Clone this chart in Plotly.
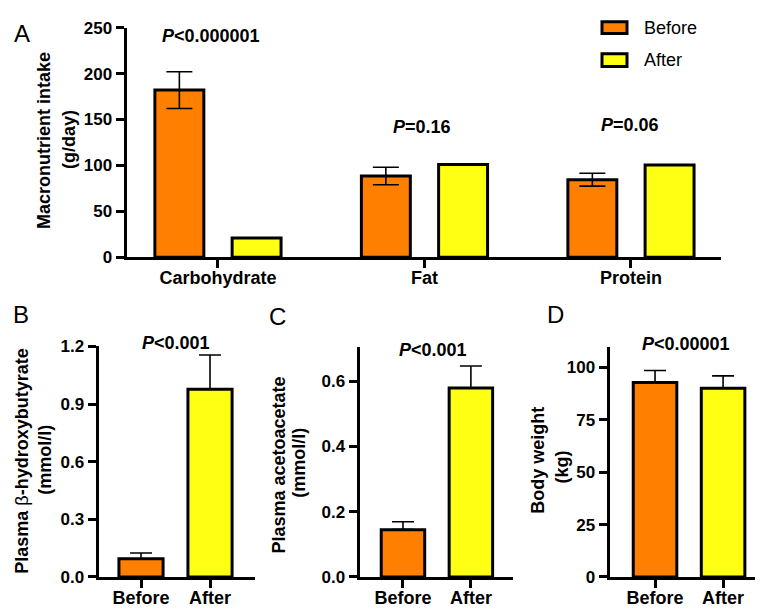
import plotly.graph_objects as go

W, H = 763, 610
FONT = "Liberation Sans, Arial, Helvetica, sans-serif"
ORANGE = "#FF8000"
YELLOW = "#FFFF14"
BLACK = "#000000"

# ---------------- data ----------------
macro_categories = ["Carbohydrate", "Fat", "Protein"]
macro_before = [182, 88.5, 84.5]
macro_before_sd = [20, 9.5, 7]
macro_after = [21, 101, 100.5]
macro_pvals = ["<i>P</i>&lt;0.000001", "<i>P</i>=0.16", "<i>P</i>=0.06"]

groups = ["Before", "After"]
bhb_vals = [0.095, 0.977]
bhb_sd = [0.03, 0.178]
aca_vals = [0.145, 0.579]
aca_sd = [0.024, 0.067]
bw_vals = [92.8, 90.0]
bw_sd = [5.7, 5.9]

bhb_ticks = [0.0, 0.3, 0.6, 0.9, 1.2]
aca_ticks = [0.0, 0.2, 0.4, 0.6]
bw_ticks = [0, 25, 50, 75, 100]
macro_ticks = [0, 50, 100, 150, 200, 250]


def fx(px):
    return px / W


def fy(py):
    return 1 - py / H


fig = go.Figure()

err_style = dict(color=BLACK, thickness=1.6)

# Panel A
fig.add_trace(go.Bar(
    x=macro_categories, y=macro_before, name="Before",
    marker=dict(color=ORANGE, line=dict(color=BLACK, width=3)),
    width=0.237, offset=-0.3055,
    error_y=dict(type="data", array=macro_before_sd, symmetric=True, width=13, **err_style),
    xaxis="x", yaxis="y"))
fig.add_trace(go.Bar(
    x=macro_categories, y=macro_after, name="After",
    marker=dict(color=YELLOW, line=dict(color=BLACK, width=3)),
    width=0.237, offset=0.0685,
    xaxis="x", yaxis="y"))

# Panels B, C, D
for vals, sd, xa, ya in [(bhb_vals, bhb_sd, "x2", "y2"),
                         (aca_vals, aca_sd, "x3", "y3"),
                         (bw_vals, bw_sd, "x4", "y4")]:
    fig.add_trace(go.Bar(
        x=groups, y=vals,
        marker=dict(color=[ORANGE, YELLOW], line=dict(color=BLACK, width=3)),
        width=0.64,
        error_y=dict(type="data", array=sd, arrayminus=[0, 0], symmetric=False,
                     width=11, **err_style),
        xaxis=xa, yaxis=ya))

ytickfont = dict(family=FONT, size=17, color=BLACK, weight="bold")
xtickfont = dict(family=FONT, size=18, color=BLACK, weight="bold")
axis_common = dict(showline=True, linewidth=3, linecolor=BLACK, ticks="outside",
                   ticklen=8, tickwidth=3, tickcolor=BLACK, showgrid=False,
                   zeroline=False, fixedrange=True)
xcommon = dict(tickfont=xtickfont, ticklabelstandoff=-6, **axis_common)
ycommon = dict(tickfont=ytickfont, **axis_common)

bottom_A = 248
top_A = 11
bottom_B = 578

fig.update_layout(
    width=W, height=H, margin=dict(l=0, r=0, t=0, b=0),
    paper_bgcolor="white", plot_bgcolor="white", showlegend=False,
    barmode="overlay",
    xaxis=dict(domain=[fx(118.5), fx(713)], range=[-0.443, 2.436], anchor="y", **xcommon),
    yaxis=dict(domain=[fy(bottom_A), fy(top_A)], range=[0, 250], tickvals=macro_ticks,
               anchor="x", **ycommon),
    xaxis2=dict(domain=[fx(90.5), fx(247)], range=[-0.616, 1.652], anchor="y2", **xcommon),
    yaxis2=dict(domain=[fy(bottom_B), fy(340)], range=[0, 1.2], tickvals=bhb_ticks,
                tickformat=".1f", anchor="x2", **ycommon),
    xaxis3=dict(domain=[fx(351.5), fx(505)], range=[-0.64, 1.62], anchor="y3", **xcommon),
    yaxis3=dict(domain=[fy(bottom_B), fy(341)], range=[0, 0.703], tickvals=aca_ticks,
                tickformat=".1f", anchor="x3", **ycommon),
    xaxis4=dict(domain=[fx(601.5), fx(760)], range=[-0.669, 1.66], anchor="y4", **xcommon),
    yaxis4=dict(domain=[fy(bottom_B), fy(341)], range=[0, 109.5], tickvals=bw_ticks,
                anchor="x4", **ycommon),
)

ann = []


def add_text(text, x, y, size=18, bold=True, angle=0, xanchor="center"):
    ann.append(dict(text=text, x=fx(x), y=fy(y), xref="paper", yref="paper",
                    showarrow=False, textangle=angle, xanchor=xanchor, yanchor="middle",
                    font=dict(family=FONT, size=size, color=BLACK,
                              weight="bold" if bold else "normal")))


# panel letters
add_text("A", 14, 17, size=24, bold=False)
add_text("B", 13, 307, size=24, bold=False)
add_text("C", 269, 309, size=24, bold=False)
add_text("D", 547, 307, size=24, bold=False)

# p-values
add_text(macro_pvals[0], 203, 20)
add_text(macro_pvals[1], 414, 114)
add_text(macro_pvals[2], 622, 111)
add_text("<i>P</i>&lt;0.001", 168, 336)
add_text("<i>P</i>&lt;0.001", 425, 344)
add_text("<i>P</i>&lt;0.00001", 678, 338)

# axis titles
add_text("Macronutrient intake", 36, 128, angle=-90)
add_text("(g/day)", 61, 127, angle=-90)
add_text("Plasma <span style='font-weight:normal'>β</span>-hydroxybutyrate", 14, 459, angle=-90)
add_text("(mmol/l)", 37, 457, angle=-90)
add_text("Plasma acetoacetate", 271, 463, angle=-90)
add_text("(mmol/l)", 291, 460, angle=-90)
add_text("Body weight", 530, 458, angle=-90)
add_text("(kg)", 554, 465, angle=-90)

# legend
add_text("Before", 634, 11, bold=False, xanchor="left")
add_text("After", 634, 44, bold=False, xanchor="left")

shapes = [
    dict(type="rect", xref="paper", yref="paper", x0=fx(594), x1=fx(619), y0=fy(17), y1=fy(5),
         fillcolor=ORANGE, line=dict(color=BLACK, width=3)),
    dict(type="rect", xref="paper", yref="paper", x0=fx(594), x1=fx(619), y0=fy(51), y1=fy(38),
         fillcolor=YELLOW, line=dict(color=BLACK, width=3)),
]

fig.update_layout(annotations=ann, shapes=shapes)

fig.write_html("out.html")
